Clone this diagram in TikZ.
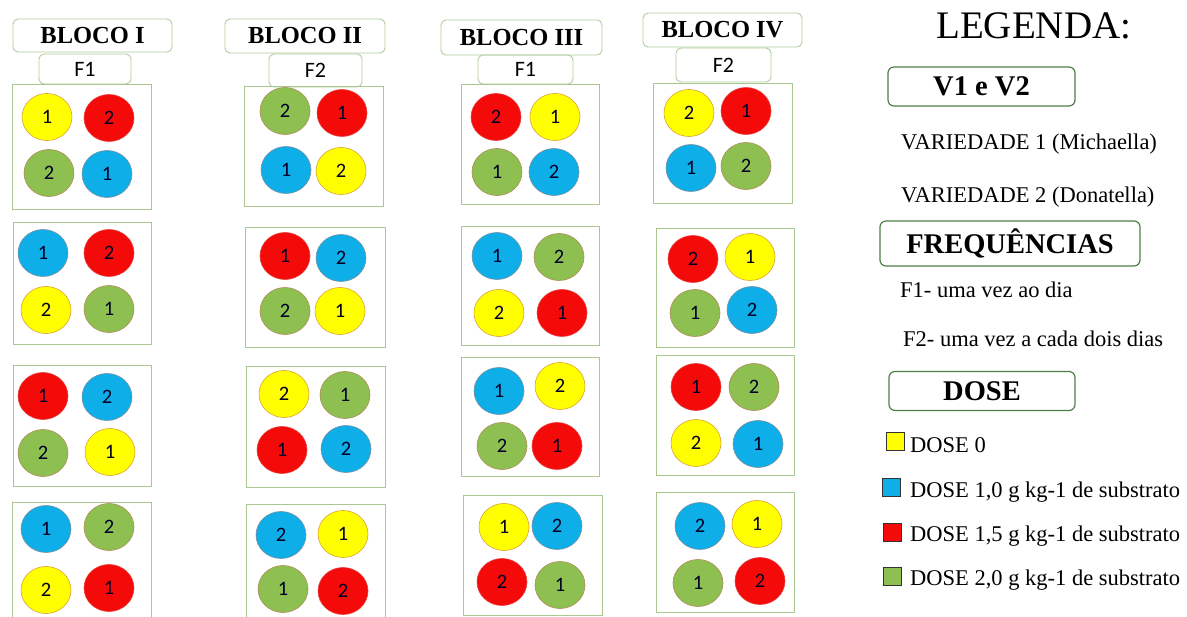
\documentclass[tikz,border=0pt]{standalone}
\usepackage{fontspec}
\setmainfont{Liberation Serif}
\newfontfamily\calibri{Carlito}
\usetikzlibrary{shapes.geometric}
\definecolor{cyel}{HTML}{FFFF00}
\definecolor{cred}{HTML}{F50A0A}
\definecolor{cblu}{HTML}{0EAEE8}
\definecolor{cgrn}{HTML}{8DC050}
\definecolor{oyel}{HTML}{D9A030}
\definecolor{ored}{HTML}{E84040}
\definecolor{oblu}{HTML}{7C8FA0}
\definecolor{ogrn}{HTML}{B08A5A}
\definecolor{rgrn}{HTML}{A8C890}
\definecolor{hgrn}{HTML}{B0CC9C}
\definecolor{lgrn}{HTML}{4E7F46}
\tikzset{
  dot/.style={ellipse, minimum width=50pt, minimum height=47pt, inner sep=0pt, line width=0.6pt,
    font=\calibri\fontsize{20.5}{20.5}\selectfont, text=black!85!blue},
  Y/.style={dot, fill=cyel, draw=oyel},
  R/.style={dot, fill=cred, draw=ored},
  B/.style={dot, fill=cblu, draw=oblu},
  G/.style={dot, fill=cgrn, draw=ogrn},
  plotbox/.style={rectangle, draw=rgrn, line width=1pt, inner sep=0pt},
  blochead/.style={rectangle, rounded corners=5pt, draw=hgrn, line width=0.9pt, inner sep=0pt,
    font=\bfseries\fontsize{24.5}{24.5}\selectfont},
  freqhead/.style={rectangle, rounded corners=5pt, draw=hgrn, line width=0.9pt, inner sep=0pt,
    font=\calibri\fontsize{22}{22}\selectfont},
  leghead/.style={rectangle, rounded corners=6pt, draw=lgrn, line width=1.2pt, inner sep=0pt,
    font=\bfseries\fontsize{28.5}{28.5}\selectfont},
  legtxt/.style={anchor=base west, inner sep=0pt, font=\fontsize{22.5}{27}\selectfont},
  swatch/.style={rectangle, draw=black!80, line width=0.8pt, minimum width=18pt, minimum height=18pt, inner sep=0pt}
}
\begin{document}
\begin{tikzpicture}[x=1pt,y=-1pt]
\useasboundingbox (0,0) rectangle (1187,617);
% headers
\node[blochead, minimum width=159pt, minimum height=33pt] (h1) at (92.5,35.5) {BLOCO I};
\node[freqhead, minimum width=92pt, minimum height=30pt] (f1) at (85,69) {F1};
\node[blochead, minimum width=160pt, minimum height=34pt] (h2) at (305,36) {BLOCO II};
\node[freqhead, minimum width=93pt, minimum height=33pt] (f2) at (315.5,70.5) {F2};
\node[blochead, minimum width=161pt, minimum height=35pt] (h3) at (521.5,37.5) {BLOCO III};
\node[freqhead, minimum width=95pt, minimum height=29pt] (f3) at (525.5,69.5) {F1};
\node[blochead, minimum width=159pt, minimum height=34pt] (h4) at (722.5,30) {BLOCO IV};
\node[freqhead, minimum width=95pt, minimum height=34pt] (f4) at (723.5,65) {F2};
% plot boxes
\node[plotbox, minimum width=139pt, minimum height=125pt] (p11) at (81.5,147.5) {};
\node[plotbox, minimum width=138pt, minimum height=122pt] (p12) at (82,284) {};
\node[plotbox, minimum width=138pt, minimum height=121pt] (p13) at (82,426.5) {};
\node[plotbox, minimum width=139pt, minimum height=122pt] (p14) at (81.5,564) {};
\node[plotbox, minimum width=139pt, minimum height=120pt] (p21) at (313.5,147) {};
\node[plotbox, minimum width=140pt, minimum height=120pt] (p22) at (315,288) {};
\node[plotbox, minimum width=139pt, minimum height=121pt] (p23) at (315.5,427.5) {};
\node[plotbox, minimum width=139pt, minimum height=120pt] (p24) at (315.5,565) {};
\node[plotbox, minimum width=138pt, minimum height=120pt] (p31) at (530,145) {};
\node[plotbox, minimum width=138pt, minimum height=119pt] (p32) at (530,286.5) {};
\node[plotbox, minimum width=138pt, minimum height=119pt] (p33) at (530,417.5) {};
\node[plotbox, minimum width=139pt, minimum height=119pt] (p34) at (532.5,555.5) {};
\node[plotbox, minimum width=139pt, minimum height=120pt] (p41) at (722.5,144) {};
\node[plotbox, minimum width=138pt, minimum height=119pt] (p42) at (725,288.5) {};
\node[plotbox, minimum width=138pt, minimum height=120pt] (p43) at (725,416) {};
\node[plotbox, minimum width=138pt, minimum height=119pt] (p44) at (725,552.5) {};
% Bloco I
\node[Y] (c11a) at (47,117) {1};
\node[R] (c11b) at (109,118) {2};
\node[G] (c11c) at (49,173) {2};
\node[B] (c11d) at (107,174) {1};
\node[B] (c12a) at (43,253) {1};
\node[R] (c12b) at (109,253) {2};
\node[Y] (c12c) at (46,310) {2};
\node[G] (c12d) at (109,309) {1};
\node[R] (c13a) at (43,396) {1};
\node[B] (c13b) at (107,397) {2};
\node[G] (c13c) at (43,453) {2};
\node[Y] (c13d) at (110,452) {1};
\node[B] (c14a) at (46,529) {1};
\node[G] (c14b) at (109,527) {2};
\node[Y] (c14c) at (46,590) {2};
\node[R] (c14d) at (109,588) {1};
% Bloco II
\node[G] (c21a) at (285,111) {2};
\node[R] (c21b) at (342,113) {1};
\node[B] (c21c) at (286,170) {1};
\node[Y] (c21d) at (341,171) {2};
\node[R] (c22a) at (285,256) {1};
\node[B] (c22b) at (341,258) {2};
\node[G] (c22c) at (285,311) {2};
\node[Y] (c22d) at (340,311) {1};
\node[Y] (c23a) at (284,394) {2};
\node[G] (c23b) at (345,395) {1};
\node[R] (c23c) at (282,450) {1};
\node[B] (c23d) at (346,449) {2};
\node[B] (c24a) at (281,535) {2};
\node[Y] (c24b) at (343,534) {1};
\node[G] (c24c) at (283,589) {1};
\node[R] (c24d) at (343,591) {2};
% Bloco III
\node[R] (c31a) at (496,117) {2};
\node[Y] (c31b) at (555,117) {1};
\node[G] (c31c) at (497,172) {1};
\node[B] (c31d) at (554,172) {2};
\node[B] (c32a) at (497,256) {1};
\node[G] (c32b) at (559,257) {2};
\node[Y] (c32c) at (499,313) {2};
\node[R] (c32d) at (562,313) {1};
\node[B] (c33a) at (499,391) {1};
\node[Y] (c33b) at (560,386) {2};
\node[G] (c33c) at (502,446) {2};
\node[R] (c33d) at (557,446) {1};
\node[Y] (c34a) at (504,527) {1};
\node[B] (c34b) at (557,526) {2};
\node[R] (c34c) at (502,582) {2};
\node[G] (c34d) at (560,585) {1};
% Bloco IV
\node[Y] (c41a) at (689,113) {2};
\node[R] (c41b) at (746,111) {1};
\node[B] (c41c) at (691,168) {1};
\node[G] (c41d) at (746,166) {2};
\node[R] (c42a) at (693,259) {2};
\node[Y] (c42b) at (750,257) {1};
\node[G] (c42c) at (695,313) {1};
\node[B] (c42d) at (752,310) {2};
\node[R] (c43a) at (696,387) {1};
\node[G] (c43b) at (754,387) {2};
\node[Y] (c43c) at (696,443) {2};
\node[B] (c43d) at (758,444) {1};
\node[B] (c44a) at (700,526) {2};
\node[Y] (c44b) at (757,524) {1};
\node[G] (c44c) at (698,583) {1};
\node[R] (c44d) at (760,581) {2};
% legend
\node[anchor=base west, inner sep=0pt, font=\fontsize{39}{39}\selectfont] (leg) at (936,39) {LEGENDA:};
\node[leghead, minimum width=187pt, minimum height=39pt] (lv) at (981.5,86.5) {V1 e V2};
\node[legtxt] (v1) at (901,150) {VARIEDADE 1 (Michaella)};
\node[legtxt] (v2) at (901,203) {VARIEDADE 2 (Donatella)};
\node[leghead, minimum width=260pt, minimum height=45pt] (lf) at (1010,243.5) {FREQUÊNCIAS};
\node[legtxt] (fa) at (900,298) {F1- uma vez ao dia};
\node[legtxt] (fb) at (903,347) {F2- uma vez a cada dois dias};
\node[leghead, minimum width=186pt, minimum height=39pt] (ld) at (982,391) {DOSE};
\node[swatch, fill=cyel] (s0) at (895,441) {};
\node[swatch, fill=cblu] (s1) at (891,487.5) {};
\node[swatch, fill=cred] (s2) at (892,532.5) {};
\node[swatch, fill=cgrn] (s3) at (892,576.5) {};
\node[legtxt] (d0) at (910,453) {DOSE 0};
\node[legtxt] (d1) at (910,498) {DOSE 1,0 g kg-1 de substrato};
\node[legtxt] (d2) at (910,542) {DOSE 1,5 g kg-1 de substrato};
\node[legtxt] (d3) at (910,585) {DOSE 2,0 g kg-1 de substrato};
\end{tikzpicture}
\end{document}
